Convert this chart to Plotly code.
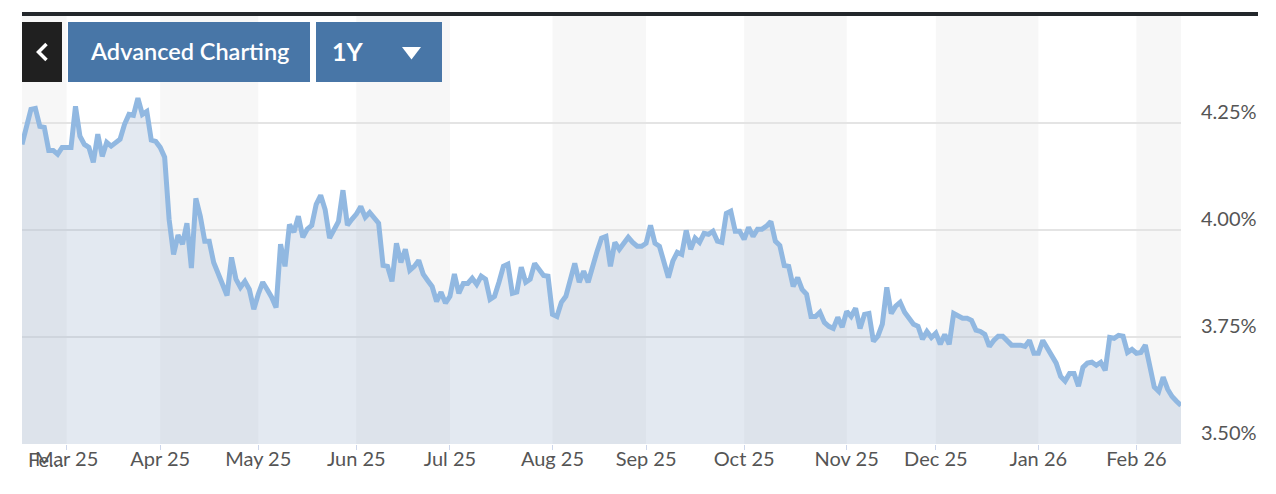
import pandas as pd
import plotly.graph_objects as go

# ---------------- data ----------------
start_date = "2025-02-17"
end_date = "2026-02-16"

yield_pct = [
    # Feb 17 2025 ...
    4.200, 4.242, 4.282, 4.284, 4.242, 4.240, 4.186, 4.186, 4.177, 4.193,
    4.193, 4.193, 4.289, 4.219, 4.200, 4.193, 4.158, 4.224, 4.172, 4.205,
    4.196, 4.205, 4.212, 4.247, 4.270, 4.268, 4.308, 4.270, 4.277, 4.210,
    4.207, 4.193, 4.170, 4.025, 3.943, 3.988, 3.967, 4.016, 3.911, 4.074,
    4.032, 3.974, 3.974, 3.924, 3.897, 3.873, 3.847, 3.936, 3.885, 3.866,
    3.880, 3.861,
    3.815, 3.850, 3.878, 3.861, 3.843, 3.819, 3.967, 3.915, 4.013, 3.995,
    4.032, 3.983, 4.002, 4.011, 4.060, 4.081, 4.048, 3.981, 4.002, 4.020,
    4.093, 4.011, 4.025, 4.037, 4.055, 4.030, 4.041, 4.027, 4.016, 3.917,
    3.915, 3.880, 3.969, 3.924, 3.955, 3.906, 3.915, 3.929, 3.897, 3.882,
    3.868, 3.833, 3.855, 3.829, 3.845, 3.897, 3.852, 3.875, 3.875, 3.887,
    3.873, 3.892, 3.885, 3.838, 3.845, 3.878, 3.915, 3.920, 3.852, 3.855,
    3.913, 3.878, 3.885, 3.922, 3.908, 3.894, 3.892, 3.803, 3.798, 3.831,
    3.845, 3.889, 3.922, 3.878, 3.904, 3.878, 3.920, 3.950, 3.981, 3.985,
    3.915, 3.971, 3.955, 3.971, 3.983, 3.971, 3.962, 3.962, 3.969, 4.011,
    3.969, 3.962, 3.924, 3.889, 3.927, 3.948, 3.943, 3.999, 3.955, 3.981,
    3.971, 3.992, 3.990, 3.997, 3.974, 3.971, 4.039, 4.044, 3.997, 3.997,
    3.978, 4.006, 3.985, 4.002, 4.002, 4.009, 4.020, 3.974, 3.964, 3.917,
    3.915, 3.868, 3.889, 3.861, 3.850, 3.798, 3.798, 3.808, 3.784, 3.775,
    3.770, 3.796, 3.773, 3.810, 3.798, 3.817, 3.770, 3.803, 3.805, 3.740,
    3.752, 3.780, 3.866, 3.805, 3.822, 3.831, 3.808, 3.794, 3.780, 3.775,
    3.745, 3.763, 3.749, 3.759, 3.733, 3.756, 3.733, 3.805, 3.801, 3.794,
    3.794, 3.789, 3.766, 3.763, 3.756, 3.728, 3.742, 3.752, 3.752, 3.742,
    3.731, 3.731, 3.731, 3.728, 3.742, 3.712, 3.712, 3.742, 3.724, 3.705,
    3.689, 3.658, 3.647, 3.665, 3.665, 3.635, 3.679, 3.689, 3.691, 3.684,
    3.691, 3.672, 3.749, 3.747, 3.754, 3.752, 3.714, 3.721, 3.712, 3.714,
    3.731, 3.682, 3.633, 3.623, 3.656, 3.628, 3.611, 3.600, 3.590,
]

month_labels = ["Mar 25", "Apr 25", "May 25", "Jun 25", "Jul 25", "Aug 25",
                "Sep 25", "Oct 25", "Nov 25", "Dec 25", "Jan 26", "Feb 26"]
first_label_clipped = "Fe\u2026"

y_tick_vals = [3.50, 3.75, 4.00, 4.25]
y_tick_text = ["3.50%", "3.75%", "4.00%", "4.25%"]
y_range = [3.50, 4.50]

button_chart_text = "Advanced Charting"
button_range_text = "1Y"

# ---------------- derived ----------------
dates = pd.bdate_range(start_date, end_date)
assert len(dates) == len(yield_pct), (len(dates), len(yield_pct))

s = pd.Series(dates)
month_first = list(s.groupby(s.dt.to_period("M")).first())
tick_dates = month_first[1:]

# ---------------- geometry ----------------
# the page body adds an 8px offset; figure sized so it ends at the window edge
OFF = 8
W, H = 1276 - OFF, 494 - OFF
L, R, T, B = 22 - OFF, 95, 16 - OFF, 50
PW, PH = W - L - R, H - T - B


def px_x(x):
    """screen pixel x -> paper x"""
    return (x - OFF - L) / PW


def px_y(y):
    """screen pixel y -> paper y"""
    return (H - B - (y - OFF)) / PH


LINE_COLOR = "rgb(145,184,225)"
FILL_COLOR = "rgba(143,167,199,0.25)"
BAND_COLOR = "#f7f7f7"
GRID_COLOR = "#e4e4e4"
TEXT_COLOR = "#555555"
BLUE = "#4876a7"
FONT = "Lato"

fig = go.Figure()
fig.add_trace(go.Scatter(
    x=dates, y=yield_pct, mode="lines",
    line=dict(color=LINE_COLOR, width=5),
    fill="tozeroy", fillcolor=FILL_COLOR,
    hoverinfo="skip", showlegend=False,
))

shapes = []
# alternating month bands
bounds = [dates[0]] + tick_dates + [dates[-1]]
for i in range(len(bounds) - 1):
    if i % 2 == 0:
        shapes.append(dict(type="rect", xref="x", yref="paper",
                           x0=bounds[i], x1=bounds[i + 1], y0=0, y1=1,
                           fillcolor=BAND_COLOR, line=dict(width=0), layer="below"))

# top dark rule
shapes.append(dict(type="rect", xref="paper", yref="paper",
                   x0=px_x(22), x1=px_x(1258), y0=px_y(16), y1=px_y(12),
                   fillcolor="#23272b", line=dict(width=0), layer="above"))
# buttons
shapes.append(dict(type="rect", xref="paper", yref="paper",
                   x0=px_x(22), x1=px_x(62), y0=px_y(82), y1=px_y(22),
                   fillcolor="#202020", line=dict(width=0), layer="above"))
shapes.append(dict(type="rect", xref="paper", yref="paper",
                   x0=px_x(68), x1=px_x(310), y0=px_y(82), y1=px_y(22),
                   fillcolor=BLUE, line=dict(width=0), layer="above"))
shapes.append(dict(type="rect", xref="paper", yref="paper",
                   x0=px_x(316), x1=px_x(442), y0=px_y(82), y1=px_y(22),
                   fillcolor=BLUE, line=dict(width=0), layer="above"))
# chevron icon
chev = "M {} {} L {} {} L {} {}".format(px_x(46.5), px_y(44), px_x(38.5), px_y(52),
                                        px_x(46.5), px_y(60))
shapes.append(dict(type="path", xref="paper", yref="paper", path=chev,
                   line=dict(color="white", width=3.5), layer="above"))
# dropdown triangle
tri = "M {} {} L {} {} L {} {} Z".format(px_x(402), px_y(47), px_x(421), px_y(47),
                                        px_x(411.5), px_y(59.5))
shapes.append(dict(type="path", xref="paper", yref="paper", path=tri,
                   fillcolor="white", line=dict(width=0), layer="above"))

annotations = [
    dict(text=button_chart_text, xref="paper", yref="paper",
         x=px_x(189), y=px_y(51), xanchor="center", yanchor="middle",
         showarrow=False, font=dict(family=FONT, size=23.5, color="white", weight=600)),
    dict(text=button_range_text, xref="paper", yref="paper",
         x=px_x(347.5), y=px_y(51), xanchor="center", yanchor="middle",
         showarrow=False, font=dict(family=FONT, size=25, color="white", weight=700)),
    dict(text=first_label_clipped, xref="paper", yref="paper",
         x=px_x(26), y=px_y(459), xanchor="left", yanchor="middle",
         showarrow=False, font=dict(family=FONT, size=20, color=TEXT_COLOR)),
]

fig.update_layout(
    width=W, height=H,
    margin=dict(l=L, r=R, t=T, b=B, pad=0),
    paper_bgcolor="white", plot_bgcolor="white",
    shapes=shapes, annotations=annotations,
    showlegend=False,
    xaxis=dict(
        type="date",
        range=[dates[0], dates[-1]],
        rangebreaks=[dict(bounds=["sat", "mon"])],
        tickmode="array", tickvals=tick_dates, ticktext=month_labels,
        ticks="outside", ticklen=5, tickcolor="#ccd6eb", tickwidth=1,
        ticklabelstandoff=-8,
        showgrid=False, zeroline=False, showline=False,
        tickfont=dict(family=FONT, size=20, color=TEXT_COLOR),
        fixedrange=True,
    ),
    yaxis=dict(
        side="right", range=y_range,
        tickmode="array", tickvals=y_tick_vals, ticktext=y_tick_text,
        ticks="", showgrid=True, gridcolor=GRID_COLOR, gridwidth=2,
        zeroline=False, showline=False,
        ticklabelshift=-11, ticklabelstandoff=19,
        tickfont=dict(family=FONT, size=20, color=TEXT_COLOR),
        fixedrange=True,
    ),
)

fig.write_html("out.html", config=dict(displayModeBar=False))
